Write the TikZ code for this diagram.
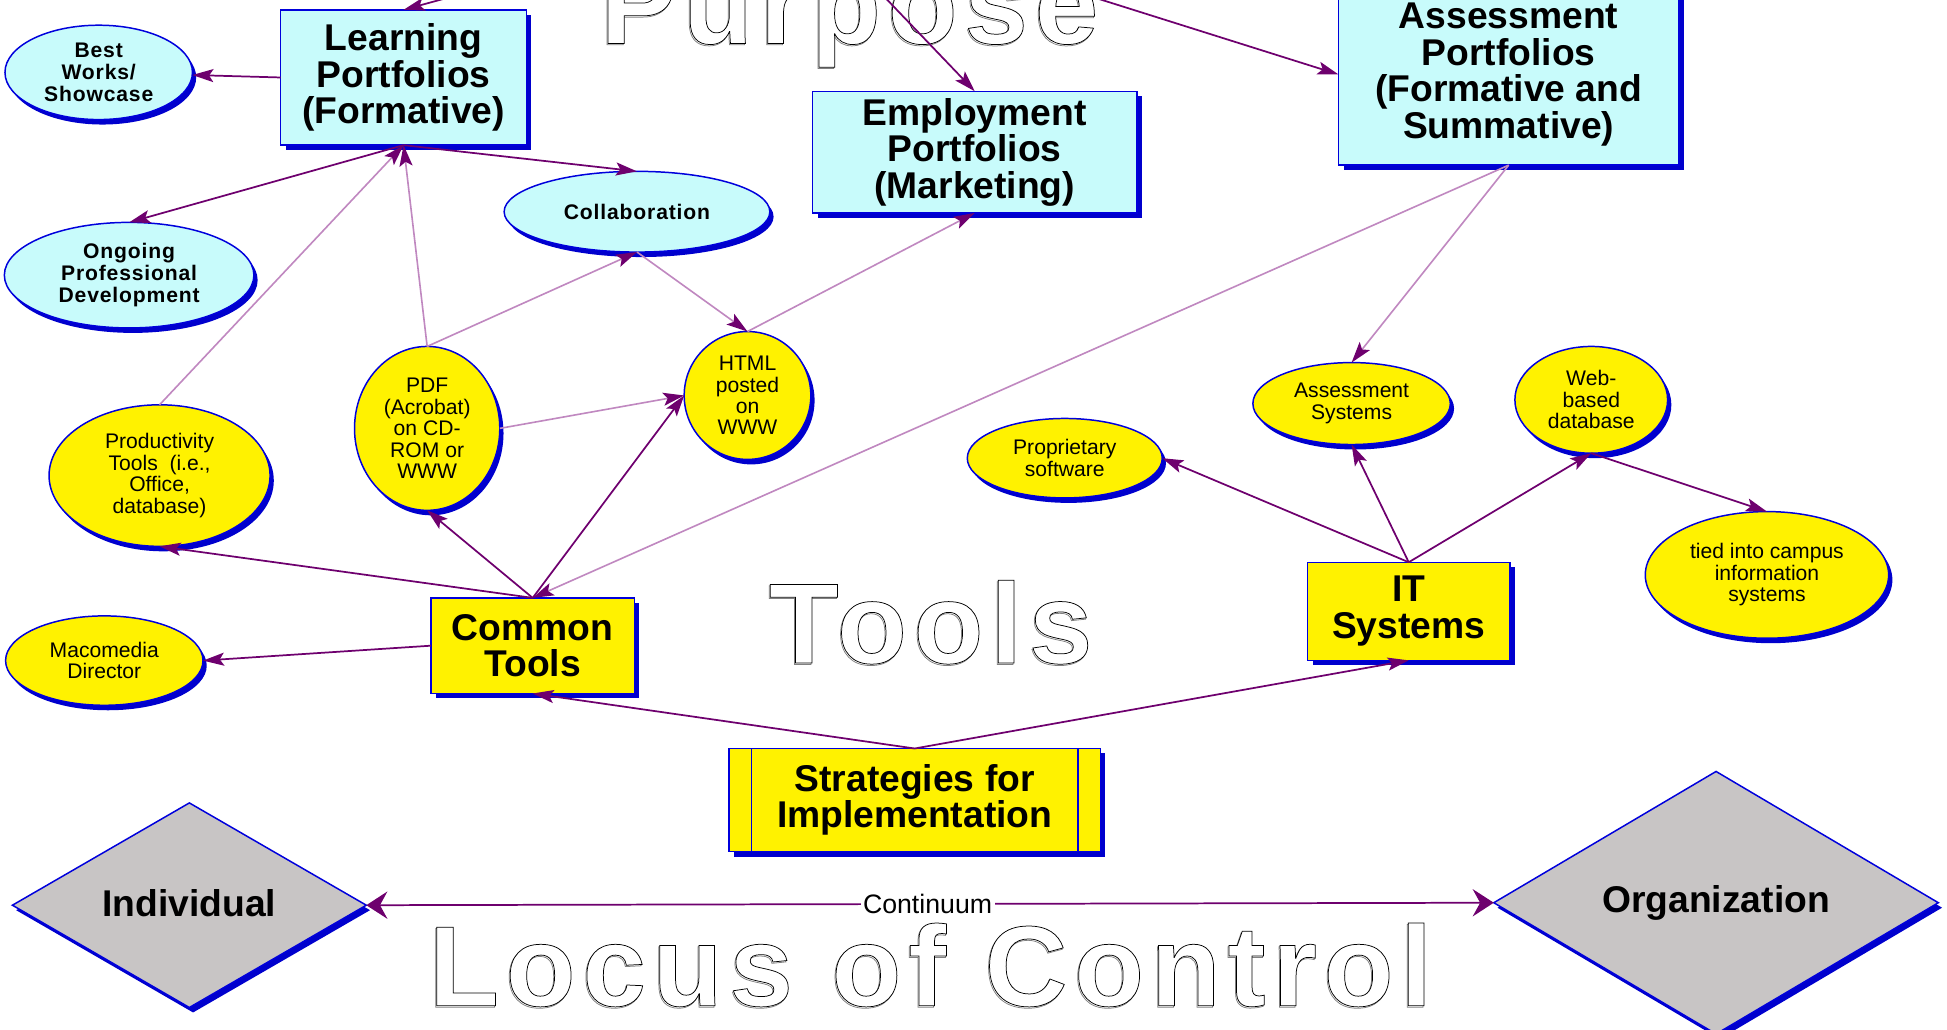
\documentclass[tikz,border=0pt]{standalone}
\usepackage{fontspec}
\setmainfont{Liberation Sans}
\newfontfamily\spacedsans[LetterSpace=4]{Liberation Sans}
\newfontfamily\outlinesans[LetterSpace=6]{Liberation Sans}
\usetikzlibrary{shapes.geometric,shadows,arrows.meta,calc}
\definecolor{dpurple}{RGB}{110,0,110}
\definecolor{lpurple}{RGB}{192,136,192}
\definecolor{bordblue}{RGB}{0,0,220}
\definecolor{shadblue}{RGB}{0,0,205}
\definecolor{lcyan}{RGB}{200,251,251}
\definecolor{dgray}{RGB}{200,197,197}
\newcommand\bigtxt{\fontsize{30}{29.5}\selectfont\bfseries}
\newcommand\cyantxt{\spacedsans\fontsize{17}{17.8}\selectfont\bfseries}
\newcommand\yeltxt{\fontsize{17}{17.3}\selectfont}
\newcommand\outlinetxt[2]{\special{pdf:literal direct 2 Tr 0.6 w #1 G}#2\special{pdf:literal direct 0 Tr}}
\newcommand\shadowedtitle[1]{\makebox[0pt][l]{\raisebox{-1.1pt}{\hspace{-0.8pt}\outlinetxt{0.5}{#1}}}\outlinetxt{0}{#1}}
\tikzset{
  shadbox/.style={drop shadow={shadow xshift=4pt, shadow yshift=-4pt, fill=shadblue, opacity=1}},
  shadell/.style={drop shadow={shadow xshift=3pt, shadow yshift=-4pt, fill=shadblue, opacity=1}},
  box/.style={rectangle, draw=bordblue, line width=1.2pt, fill=lcyan, align=center, inner sep=0pt, outer sep=0pt, font=\bigtxt, shadbox},
  ybox/.style={box, fill=yellow},
  cyanell/.style={ellipse, draw=bordblue, line width=1.2pt, fill=lcyan, align=center, inner sep=0pt, outer sep=0pt, font=\cyantxt, shadell},
  yell/.style={cyanell, fill=yellow, font=\yeltxt},
  dmd/.style={diamond, draw=bordblue, line width=1.2pt, fill=dgray, inner sep=0pt, outer sep=0pt, font=\bigtxt, shadell},
  ptip/.style={-{Stealth[length=17pt,width=10.5pt,inset=3.5pt,color=dpurple]}},
  dpline/.style={draw=dpurple, line width=1.4pt, ptip},
  lpline/.style={draw=lpurple, line width=1.3pt, ptip},
  contline/.style={draw=dpurple, line width=1.4pt, {Stealth[length=17pt,width=22pt,inset=6pt]}-{Stealth[length=17pt,width=22pt,inset=6pt]}},
  outl/.style={inner sep=0pt, outer sep=0pt, anchor=base, text=white, font=\outlinesans\fontsize{92}{92}\selectfont\bfseries},
}
\begin{document}
\begin{tikzpicture}[x=1pt, y=-1pt]
\useasboundingbox (0,0) rectangle (1568,828.7);
\clip (0,0) rectangle (1568,828.7);

% outline titles
\node[outl] (tpurpose) at (684,35) {\shadowedtitle{Purpose}};
\node[outl] (ttools) at (749.5,534) {\shadowedtitle{Tools}};
\node[outl] (tlocus) at (749.5,810) {\shadowedtitle{Locus of Control}};

% portfolio boxes
\node[box, minimum width=198pt, minimum height=109pt] (learn) at (325,62.4) {Learning\\Portfolios\\(Formative)};
\node[box, minimum width=261pt, minimum height=98pt] (emp) at (785,122.5) {Employment\\Portfolios\\(Marketing)};
\node[box, minimum width=274pt, minimum height=146pt] (assess) at (1215,60) {Assessment\\Portfolios\\(Formative and\\Summative)};

% cyan ellipses
\node[cyanell, minimum width=151pt, minimum height=76pt] (best) at (79.5,58.3) {Best\\Works/\\Showcase};
\node[cyanell, minimum width=201pt, minimum height=85pt] (ongo) at (104,221.6) {Ongoing\\Professional\\Development};
\node[cyanell, minimum width=214pt, minimum height=65pt] (collab) at (513,170.5) {Collaboration};

% yellow ellipses
\node[yell, minimum width=178pt, minimum height=114pt] (prod) at (128.5,383) {Productivity\\Tools~~(i.e.,\\Office,\\database)};
\node[yell, minimum width=117pt, minimum height=132pt] (pdf) at (344,345) {PDF\\(Acrobat)\\on CD-\\ROM or\\WWW};
\node[yell, minimum width=102pt, minimum height=103pt] (html) at (602,318.5) {HTML\\posted\\on\\WWW};
\node[yell, minimum width=159pt, minimum height=72pt] (macro) at (84,532) {Macomedia\\Director};
\node[yell, minimum width=157pt, minimum height=64pt] (prop) at (857.5,369) {Proprietary\\software};
\node[yell, minimum width=159pt, minimum height=66pt] (asys) at (1088.5,325) {Assessment\\Systems};
\node[yell, minimum width=123pt, minimum height=86pt] (web) at (1281.5,322) {Web-\\based\\database};
\node[yell, minimum width=196pt, minimum height=102pt] (tied) at (1423,463) {tied into campus\\information\\systems};

% yellow boxes
\node[ybox, minimum width=164pt, minimum height=77pt] (common) at (429,520) {Common\\Tools};
\node[ybox, minimum width=163pt, minimum height=79pt] (it) at (1134.5,492.3) {IT\\Systems};
\node[ybox, minimum width=299pt, minimum height=83pt] (strat) at (736.6,644.3) {Strategies for\\Implementation};
\draw[draw=bordblue, line width=1.2pt] ($(strat.north west)+(18,0)$) -- ($(strat.south west)+(18,0)$);
\draw[draw=bordblue, line width=1.2pt] ($(strat.north east)+(-18,0)$) -- ($(strat.south east)+(-18,0)$);

% diamonds
\node[dmd, minimum width=285pt, minimum height=160pt] (indiv) at (152.5,729) {\raisebox{3pt}{Individual}};
\node[dmd, minimum width=358pt, minimum height=203pt] (org) at (1382,727) {\raisebox{3pt}{Organization}};

% connectors
\coordinate (src) at (640,-78);
\draw[dpline] (src) -- (learn.north);
\draw[dpline] (src) -- (emp.north);
\draw[dpline] (src) -- (assess.west);
\draw[dpline] (learn.west) -- (best);
\draw[dpline] (learn.south) -- (ongo.north);
\draw[dpline] (learn.south) -- (collab.north);
\draw[lpline] (prod.north) -- (learn.south);
\draw[lpline] (pdf.north) -- (learn.south);
\draw[lpline] (pdf.north) -- (collab.south);
\draw[lpline] (collab.south) -- (html.north);
\draw[lpline] (html.north) -- (emp.south);
\draw[lpline] (pdf.east) -- (html.west);
\draw[dpline] (common.north) -- (html.west);
\draw[dpline] (common.north) -- (pdf.south);
\draw[dpline] (common.north) -- (prod.south);
\draw[lpline] (assess.south) -- (common.north);
\draw[lpline] (assess.south) -- (asys.north);
\draw[dpline] (common.west) -- (macro.east);
\draw[dpline] (it.north) -- (prop.east);
\draw[dpline] (it.north) -- (asys.south);
\draw[dpline] (it.north) -- (web.south);
\draw[dpline] (web.south) -- (tied.north);
\draw[dpline] (strat.north) -- (common.south);
\draw[dpline] (strat.north) -- (it.south);
\draw[contline] (indiv.east) -- node[fill=white, inner sep=2pt, xshift=-2pt, font=\fontsize{21.5}{21.5}\selectfont] (cont) {Continuum} (org.west);
\end{tikzpicture}
\end{document}
